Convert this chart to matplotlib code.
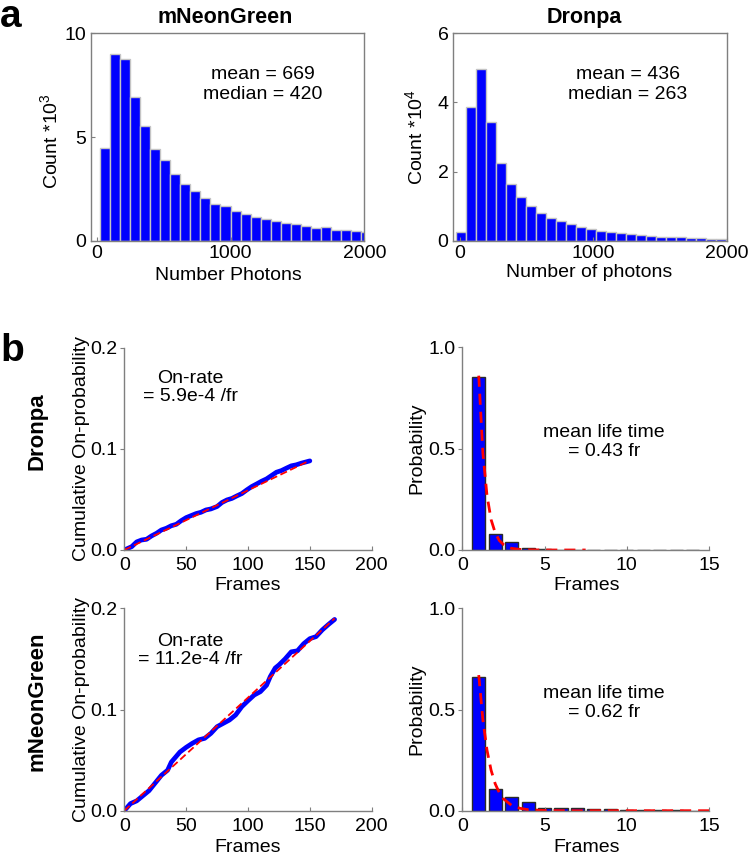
from __future__ import annotations

import matplotlib

matplotlib.use("Agg")
from matplotlib import pyplot as plt

FIG_W, FIG_H = 748, 857
BLUE = "#0000ff"
GRAY = "#7f7f7f"

# panel a: photon histograms (left bin edges, counts)
MNG_PHOTON_EDGES = [25, 100, 175, 250, 325, 400, 475, 550, 625, 700, 775, 850, 925, 1000,
                    1075, 1150, 1225, 1300, 1375, 1450, 1525, 1600, 1675, 1750, 1825, 1900, 1975]
MNG_PHOTON_COUNTS = [4.45, 8.99, 8.75, 6.95, 5.53, 4.42, 3.89, 3.23, 2.75, 2.40, 2.04, 1.77, 1.67, 1.45,
                     1.27, 1.14, 1.06, 0.95, 0.85, 0.79, 0.69, 0.63, 0.68, 0.53, 0.51, 0.47, 0.43]
DRONPA_PHOTON_EDGES = [-30, 45, 120, 195, 270, 345, 420, 495, 570, 645, 720, 795, 870, 945,
                       1020, 1095, 1170, 1245, 1320, 1395, 1470, 1545, 1620, 1695, 1770, 1845, 1920]
DRONPA_PHOTON_COUNTS = [0.26, 3.86, 4.97, 3.43, 2.26, 1.63, 1.25, 1.00, 0.81, 0.67, 0.56, 0.47, 0.40, 0.35,
                        0.29, 0.26, 0.21, 0.18, 0.16, 0.14, 0.12, 0.11, 0.10, 0.08, 0.07, 0.06, 0.05]

# panel b: cumulative on-probability
DRONPA_FRAMES = [0, 6, 10, 14, 18, 22, 26, 30, 34, 38, 42, 46, 50, 54, 58, 62, 66, 70, 75, 79,
                 83, 87, 91, 95, 99, 103, 107, 111, 115, 119, 123, 127, 131, 135, 139, 143, 147, 150]
DRONPA_CUM_PROB = [0.0, 0.0033, 0.008, 0.0099, 0.0106, 0.0139, 0.0165, 0.0198, 0.0215, 0.024,
                   0.0254, 0.029, 0.032, 0.034, 0.036, 0.0373, 0.0396, 0.0406, 0.043, 0.047,
                   0.0495, 0.051, 0.0535, 0.0558, 0.0594, 0.0627, 0.0653, 0.068, 0.0703, 0.0736,
                   0.0769, 0.0785, 0.0809, 0.0832, 0.0842, 0.0858, 0.0871, 0.0881]
DRONPA_FIT_FRAMES = [0, 150]
DRONPA_FIT_PROB = [0.0, 0.0885]

MNG_FRAMES = [0, 5, 10, 20, 30, 35, 38, 45, 50, 55, 60, 65, 70, 75, 80, 85, 90, 95, 100, 105,
              110, 115, 118, 122, 125, 130, 135, 140, 145, 150, 155, 160, 165, 170]
MNG_CUM_PROB = [0.0, 0.007, 0.0097, 0.0198, 0.035, 0.040, 0.048, 0.058, 0.0626, 0.0666, 0.070,
                0.0715, 0.0764, 0.083, 0.0863, 0.0896, 0.0946, 0.1028, 0.1087, 0.1143, 0.1176,
                0.124, 0.1325, 0.141, 0.144, 0.150, 0.157, 0.158, 0.165, 0.170, 0.172, 0.1786,
                0.184, 0.189]
MNG_FIT_FRAMES = [0, 170]
MNG_FIT_PROB = [0.0, 0.190]

# panel b: on-time distributions
LIFE_FRAMES = [1, 2, 3, 4, 5, 6, 7, 8, 9, 10, 11, 12, 13, 14]
DRONPA_LIFE_PROB = [0.852, 0.077, 0.039, 0.010, 0.005, 0.002, 0.001, 0, 0, 0, 0, 0, 0, 0]
MNG_LIFE_PROB = [0.662, 0.107, 0.069, 0.041, 0.012, 0.013, 0.013, 0.010, 0.008, 0.002,
                 0.003, 0.001, 0.001, 0.0005]
DRONPA_LIFE_FIT_X = [1.0, 1.25, 1.5, 1.75, 2.0, 2.25, 2.5, 2.75, 3.0, 3.5, 4.0, 5.0, 6.0, 7.5]
DRONPA_LIFE_FIT_Y = [0.86, 0.48, 0.27, 0.15, 0.085, 0.047, 0.027, 0.015, 0.008, 0.003, 0.001,
                     0.0, 0.0, 0.0]
MNG_LIFE_FIT_X = [1.0, 1.25, 1.5, 1.75, 2.0, 2.25, 2.5, 3.0, 3.5, 4.0, 5.0, 7.0, 10.0, 15.0]
MNG_LIFE_FIT_Y = [0.67, 0.45, 0.30, 0.20, 0.133, 0.089, 0.059, 0.026, 0.012, 0.005, 0.001,
                  0.0, 0.0, 0.0]


def add_axes_px(fig, left, top, right, bottom):
    return fig.add_axes([left / FIG_W, 1 - bottom / FIG_H, (right - left) / FIG_W, (bottom - top) / FIG_H])


def draw_photon_hist(ax, edges, counts, xlim, ylim, yticks, ylabel, xlabel, stats, stats_x):
    ax.bar(edges, counts, width=75, align="edge", color=BLUE, edgecolor="#c4c4c4", linewidth=1.0)
    ax.set_xlim(*xlim)
    ax.set_ylim(*ylim)
    ax.set_xticks([0, 1000, 2000])
    ax.set_yticks(yticks)
    ax.tick_params(direction="in", length=3, width=0.8, color=GRAY, labelsize=14, pad=3)
    for spine in ax.spines.values():
        spine.set_color(GRAY)
        spine.set_linewidth(1.0)
    ax.set_ylabel(ylabel, fontsize=14)
    ax.set_xlabel(xlabel, fontsize=14)
    ax.text(stats_x, 0.752, stats, transform=ax.transAxes, ha="center", va="center",
            fontsize=14, linespacing=1.25)


def style_open_axes(ax):
    ax.spines["top"].set_visible(False)
    ax.spines["right"].set_visible(False)
    for side in ("left", "bottom"):
        ax.spines[side].set_color(GRAY)
        ax.spines[side].set_linewidth(1.0)
    ax.tick_params(axis="y", direction="out", length=3, width=0.8, color=GRAY, labelsize=14, pad=2)
    ax.tick_params(axis="x", direction="in", length=3, width=0.8, color=GRAY, labelsize=14, pad=5)


def draw_cumulative(ax, frames, probs, fit_x, fit_y, rate_text, text_y):
    ax.plot(frames, probs, color=BLUE, linewidth=3.4, solid_capstyle="round", solid_joinstyle="round")
    ax.plot(fit_x, fit_y, color="red", linewidth=1.3, linestyle=(0, (4, 2)))
    ax.set_xlim(0, 200)
    ax.set_ylim(0, 0.2)
    ax.set_xticks([0, 50, 100, 150, 200])
    ax.set_yticks([0.0, 0.1, 0.2])
    ax.set_yticklabels(["0.0", "0.1", "0.2"])
    style_open_axes(ax)
    ax.set_ylabel("Cumulative On-probability", fontsize=14)
    ax.set_xlabel("Frames", fontsize=14)
    ax.text(0.266, text_y, rate_text, transform=ax.transAxes, ha="center", va="center",
            fontsize=14, linespacing=1.1)


def draw_lifetime(ax, frames, probs, fit_x, fit_y, life_text):
    ax.bar(frames, probs, width=0.8, color=BLUE, edgecolor="#2a2a2a", linewidth=1.0)
    ax.plot(fit_x, fit_y, color="red", linewidth=2.0, linestyle=(0, (4, 2.5)))
    ax.set_xlim(0, 15)
    ax.set_ylim(0, 1.0)
    ax.set_xticks([0, 5, 10, 15])
    ax.set_yticks([0.0, 0.5, 1.0])
    ax.set_yticklabels(["0.0", "0.5", "1.0"])
    style_open_axes(ax)
    ax.set_ylabel("Probability", fontsize=14)
    ax.set_xlabel("Frames", fontsize=14)
    ax.text(0.574, 0.533, life_text, transform=ax.transAxes, ha="center", va="center",
            fontsize=14, linespacing=1.15)


plt.rcParams["font.family"] = ["Liberation Sans", "DejaVu Sans"]
plt.rcParams["mathtext.fontset"] = "custom"
plt.rcParams["mathtext.rm"] = "Liberation Sans"

fig = plt.figure(figsize=(FIG_W / 100, FIG_H / 100), dpi=100)

ax_a1 = add_axes_px(fig, 90.7, 33.3, 364.3, 240.7)
draw_photon_hist(ax_a1, MNG_PHOTON_EDGES, MNG_PHOTON_COUNTS, (-45, 2000), (0, 10), [0, 5, 10],
                 r"Count *10$^{\mathregular{3}}$", "Number Photons", "mean = 669\nmedian = 420", 0.63)
ax_a1.yaxis.set_label_coords(-0.105, 0.48)
ax_a1.xaxis.set_label_coords(0.502, -0.125)

ax_a2 = add_axes_px(fig, 452.7, 33.3, 726.7, 240.7)
draw_photon_hist(ax_a2, DRONPA_PHOTON_EDGES, DRONPA_PHOTON_COUNTS, (-55, 2000), (0, 6), [0, 2, 4, 6],
                 r"Count *10$^{\mathregular{4}}$", "Number of photons", "mean = 436\nmedian = 263", 0.638)
ax_a2.yaxis.set_label_coords(-0.094, 0.5)
ax_a2.xaxis.set_label_coords(0.497, -0.112)

ax_b1 = add_axes_px(fig, 124.3, 347.7, 371.7, 550)
draw_cumulative(ax_b1, DRONPA_FRAMES, DRONPA_CUM_PROB, DRONPA_FIT_FRAMES, DRONPA_FIT_PROB,
                "On-rate\n= 5.9e-4 /fr", 0.804)
ax_b1.yaxis.set_label_coords(-0.139, 0.5)
ax_b1.xaxis.set_label_coords(0.5, -0.135)

ax_b2 = add_axes_px(fig, 462.3, 347.3, 709, 550)
draw_lifetime(ax_b2, LIFE_FRAMES, DRONPA_LIFE_PROB, DRONPA_LIFE_FIT_X, DRONPA_LIFE_FIT_Y,
              "mean life time\n= 0.43 fr")
ax_b2.yaxis.set_label_coords(-0.148, 0.5)
ax_b2.xaxis.set_label_coords(0.503, -0.135)

ax_b3 = add_axes_px(fig, 124.3, 608.3, 371.7, 810.7)
draw_cumulative(ax_b3, MNG_FRAMES, MNG_CUM_PROB, MNG_FIT_FRAMES, MNG_FIT_PROB,
                "On-rate\n= 11.2e-4 /fr", 0.79)
ax_b3.yaxis.set_label_coords(-0.139, 0.5)
ax_b3.xaxis.set_label_coords(0.5, -0.14)

ax_b4 = add_axes_px(fig, 462.3, 608.3, 709, 810.7)
draw_lifetime(ax_b4, LIFE_FRAMES, MNG_LIFE_PROB, MNG_LIFE_FIT_X, MNG_LIFE_FIT_Y,
              "mean life time\n= 0.62 fr")
ax_b4.yaxis.set_label_coords(-0.148, 0.5)
ax_b4.xaxis.set_label_coords(0.503, -0.14)

fig.text(225 / FIG_W, 1 - 17.5 / FIG_H, "mNeonGreen", ha="center", va="center", fontsize=15.5, fontweight="bold")
fig.text(584 / FIG_W, 1 - 17.5 / FIG_H, "Dronpa", ha="center", va="center", fontsize=15.5, fontweight="bold")
fig.text(37 / FIG_W, 1 - 431 / FIG_H, "Dronpa", ha="center", va="center", rotation=90,
         fontsize=16, fontweight="bold")
fig.text(37 / FIG_W, 1 - 701 / FIG_H, "mNeonGreen", ha="center", va="center", rotation=90,
         fontsize=16, fontweight="bold")
fig.text(0, 1 - 27 / FIG_H, "a", ha="left", va="baseline", fontsize=28, fontweight="bold")
fig.text(0, 1 - 361 / FIG_H, "b", ha="left", va="baseline", fontsize=28, fontweight="bold")

fig.savefig("out.png", dpi=100)
plt.close(fig)
